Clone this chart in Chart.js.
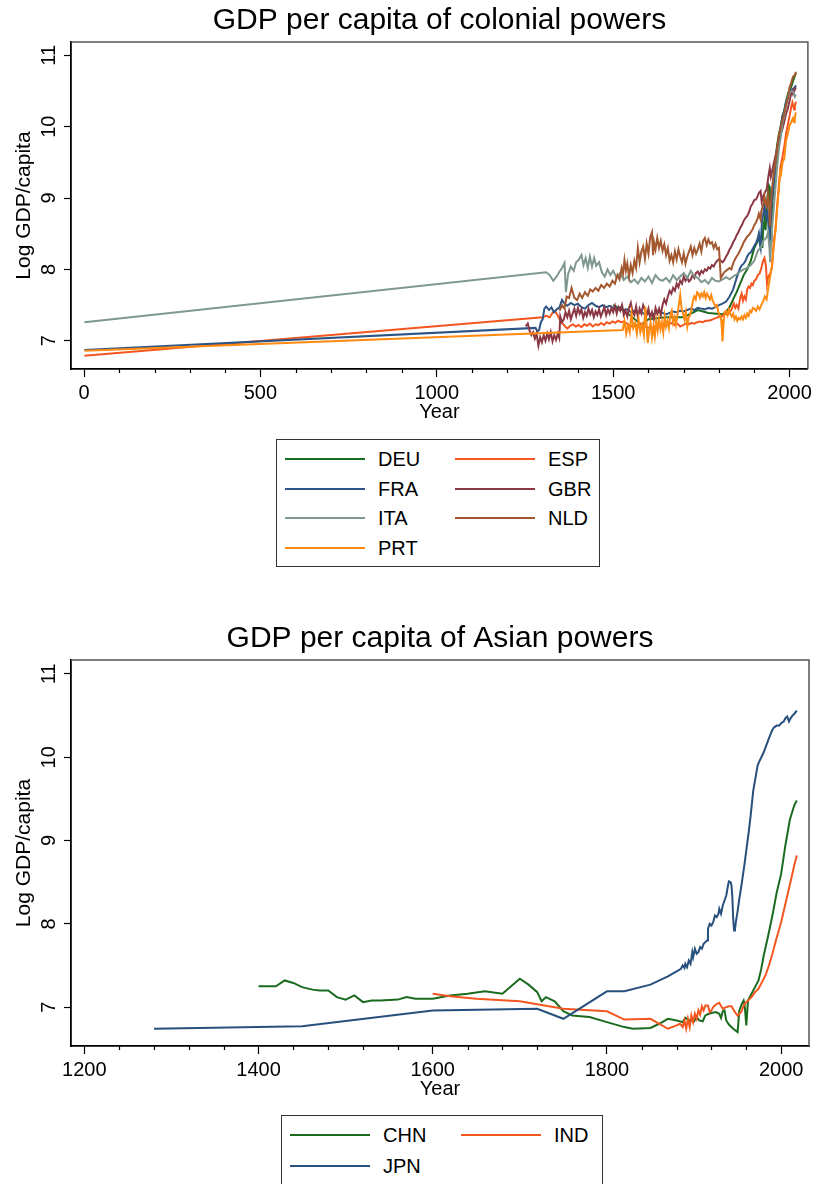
<!DOCTYPE html>
<html>
<head>
<meta charset="utf-8">
<script src="https://cdn.jsdelivr.net/npm/chart.js@4.4.1/dist/chart.umd.min.js"></script>
<style>
  body { margin: 0; background: #fff; width: 816px; height: 1184px; overflow: hidden; position: relative;
         font-family: "Liberation Sans", Arial, Helvetica, sans-serif; }
  canvas { position: absolute; left: 0; }
  .legend { position: absolute; border: 1px solid #333; box-sizing: border-box; background: #fff; }
  .item { position: absolute; height: 24px; display: flex; align-items: center; font-size: 20px; color: #000; white-space: nowrap; }
  .item span.sw { display: inline-block; width: 80px; border-top: 2px solid; margin-right: 13px; }
</style>
</head>
<body>
<canvas id="colonial" width="816" height="430" style="top:0"></canvas>
<div class="legend" id="legendTop" style="left:276px;top:439px;width:324px;height:128px"></div>
<canvas id="asian" width="816" height="488" style="top:618px"></canvas>
<div class="legend" id="legendBottom" style="left:281px;top:1115px;width:322px;height:100px"></div>
<script>
// log GDP per capita, [year, value]
const deu = [[1500,7.50],[1520,7.45],[1550,7.35],[1580,7.22],[1600,7.30],[1650,7.33],[1700,7.33],[1740,7.43],[1770,7.39],[1810,7.37],[1820,7.40],[1830,7.47],[1840,7.58],[1850,7.68],[1860,7.80],[1870,7.92],[1880,8.00],[1890,8.12],[1900,8.30],[1910,8.40],[1913,8.48],[1918,8.35],[1920,8.40],[1923,8.30],[1925,8.55],[1929,8.70],[1932,8.55],[1935,8.85],[1938,9.05],[1941,9.18],[1944,9.15],[1946,8.45],[1948,8.60],[1950,8.85],[1955,9.25],[1960,9.55],[1965,9.75],[1970,9.90],[1975,10.00],[1980,10.15],[1985,10.22],[1990,10.35],[1995,10.45],[2000,10.52],[2005,10.56],[2010,10.64],[2015,10.71],[2018,10.75]];

const esp = [[1,6.79],[1300,7.33],[1310,7.35],[1320,7.33],[1328,7.39],[1336,7.41],[1342,7.36],[1348,7.30],[1355,7.25],[1362,7.21],[1370,7.17],[1378,7.21],[1386,7.23],[1394,7.20],[1402,7.22],[1410,7.19],[1418,7.23],[1426,7.21],[1434,7.24],[1442,7.20],[1450,7.23],[1458,7.22],[1466,7.25],[1474,7.22],[1482,7.26],[1490,7.24],[1498,7.27],[1506,7.25],[1514,7.28],[1522,7.26],[1530,7.27],[1538,7.24],[1546,7.22],[1554,7.20],[1562,7.23],[1570,7.21],[1578,7.24],[1586,7.21],[1594,7.19],[1602,7.18],[1610,7.17],[1618,7.20],[1626,7.18],[1634,7.21],[1642,7.19],[1650,7.22],[1658,7.23],[1666,7.25],[1674,7.22],[1682,7.24],[1690,7.20],[1698,7.22],[1706,7.24],[1714,7.23],[1722,7.25],[1730,7.24],[1738,7.26],[1746,7.27],[1754,7.26],[1762,7.28],[1770,7.28],[1778,7.29],[1786,7.31],[1794,7.32],[1800,7.34],[1806,7.33],[1812,7.36],[1818,7.38],[1824,7.36],[1830,7.40],[1836,7.44],[1842,7.52],[1846,7.46],[1850,7.50],[1855,7.45],[1860,7.60],[1864,7.66],[1868,7.56],[1872,7.62],[1876,7.58],[1880,7.72],[1884,7.76],[1888,7.74],[1892,7.80],[1896,7.78],[1900,7.84],[1905,7.86],[1910,7.92],[1915,7.94],[1920,8.02],[1925,8.12],[1929,8.16],[1933,8.05],[1936,7.80],[1939,7.88],[1942,7.92],[1946,7.95],[1950,8.02],[1955,8.38],[1960,8.55],[1965,8.90],[1970,9.20],[1975,9.45],[1980,9.58],[1985,9.72],[1990,9.90],[1995,10.02],[2000,10.15],[2005,10.28],[2008,10.34],[2010,10.30],[2013,10.24],[2015,10.28],[2018,10.35]];

const fra = [[1,6.87],[1280,7.18],[1285,7.13],[1290,7.15],[1295,7.26],[1300,7.30],[1305,7.45],[1310,7.48],[1318,7.43],[1325,7.47],[1332,7.40],[1340,7.44],[1348,7.47],[1355,7.57],[1362,7.52],[1370,7.49],[1380,7.53],[1390,7.50],[1400,7.52],[1410,7.47],[1420,7.45],[1430,7.50],[1440,7.53],[1450,7.49],[1460,7.47],[1470,7.50],[1480,7.47],[1490,7.49],[1500,7.46],[1510,7.44],[1520,7.47],[1530,7.43],[1540,7.44],[1550,7.40],[1560,7.42],[1570,7.39],[1580,7.40],[1590,7.37],[1600,7.38],[1610,7.36],[1620,7.38],[1630,7.40],[1640,7.39],[1650,7.37],[1660,7.39],[1670,7.41],[1680,7.40],[1690,7.42],[1700,7.41],[1710,7.43],[1720,7.45],[1730,7.43],[1740,7.46],[1750,7.45],[1760,7.44],[1770,7.46],[1780,7.45],[1790,7.47],[1800,7.50],[1810,7.52],[1820,7.55],[1830,7.62],[1840,7.72],[1850,7.88],[1855,7.95],[1860,8.02],[1865,8.06],[1870,8.08],[1875,8.12],[1880,8.18],[1885,8.22],[1890,8.24],[1895,8.28],[1900,8.33],[1905,8.37],[1910,8.44],[1913,8.50],[1916,8.35],[1918,8.30],[1920,8.52],[1922,8.68],[1925,8.76],[1929,8.90],[1932,8.78],[1935,8.72],[1938,8.80],[1940,8.62],[1942,8.48],[1944,8.35],[1946,8.62],[1950,8.92],[1955,9.15],[1960,9.40],[1965,9.65],[1970,9.85],[1975,10.00],[1980,10.15],[1985,10.22],[1990,10.35],[1995,10.40],[2000,10.48],[2005,10.52],[2010,10.53],[2015,10.55],[2018,10.58]];

const gbr = [[1252,7.20],[1258,7.24],[1263,7.14],[1268,7.08],[1273,7.12],[1278,7.03],[1283,7.10],[1288,6.93],[1293,7.05],[1298,6.98],[1303,7.08],[1308,7.00],[1313,7.10],[1318,7.02],[1323,7.12],[1328,6.99],[1333,7.08],[1338,7.01],[1343,7.10],[1347,7.04],[1350,7.34],[1355,7.26],[1360,7.30],[1365,7.40],[1370,7.33],[1375,7.42],[1380,7.30],[1385,7.38],[1390,7.45],[1395,7.35],[1400,7.46],[1405,7.38],[1410,7.44],[1415,7.32],[1420,7.40],[1425,7.35],[1430,7.45],[1435,7.37],[1440,7.43],[1445,7.33],[1450,7.41],[1455,7.36],[1460,7.44],[1465,7.34],[1470,7.40],[1475,7.47],[1480,7.36],[1485,7.44],[1490,7.38],[1495,7.46],[1500,7.40],[1505,7.49],[1510,7.38],[1515,7.47],[1520,7.42],[1525,7.50],[1530,7.36],[1535,7.42],[1540,7.34],[1545,7.46],[1550,7.53],[1555,7.40],[1560,7.36],[1565,7.48],[1570,7.33],[1575,7.45],[1580,7.38],[1585,7.50],[1590,7.44],[1595,7.36],[1600,7.45],[1605,7.32],[1610,7.40],[1615,7.30],[1620,7.46],[1625,7.38],[1630,7.45],[1635,7.36],[1640,7.50],[1645,7.58],[1650,7.52],[1655,7.62],[1660,7.70],[1665,7.66],[1670,7.74],[1675,7.70],[1680,7.80],[1685,7.75],[1690,7.84],[1695,7.80],[1700,7.90],[1705,7.84],[1710,7.88],[1715,7.83],[1720,7.86],[1725,7.92],[1730,7.88],[1735,7.95],[1740,7.97],[1745,7.92],[1750,7.98],[1755,7.95],[1760,8.00],[1765,7.98],[1770,8.03],[1775,8.01],[1780,8.06],[1785,8.04],[1790,8.09],[1795,8.12],[1800,8.14],[1805,8.12],[1810,8.10],[1815,8.13],[1820,8.18],[1825,8.22],[1830,8.28],[1835,8.32],[1840,8.38],[1845,8.42],[1850,8.48],[1855,8.52],[1860,8.58],[1865,8.62],[1870,8.68],[1875,8.72],[1880,8.75],[1885,8.80],[1890,8.88],[1895,8.92],[1900,8.97],[1905,8.98],[1910,9.03],[1913,9.07],[1918,9.10],[1921,8.95],[1925,9.02],[1930,9.08],[1935,9.12],[1940,9.30],[1944,9.42],[1947,9.30],[1950,9.36],[1955,9.48],[1960,9.58],[1965,9.70],[1970,9.80],[1975,9.90],[1980,9.97],[1985,10.07],[1990,10.18],[1995,10.25],[2000,10.36],[2005,10.47],[2008,10.50],[2010,10.46],[2015,10.52],[2018,10.55]];

const ita = [[1,7.26],[1310,7.96],[1320,7.92],[1330,7.84],[1340,7.90],[1348,7.97],[1355,8.02],[1362,8.09],[1366,7.68],[1372,7.93],[1380,8.04],[1388,7.98],[1395,8.10],[1402,8.13],[1410,8.20],[1416,8.06],[1422,8.16],[1428,8.02],[1434,8.18],[1440,8.04],[1446,8.16],[1452,8.05],[1460,8.10],[1468,7.96],[1476,7.90],[1484,8.00],[1492,7.92],[1500,7.98],[1510,7.88],[1520,7.95],[1530,7.85],[1540,7.90],[1550,7.82],[1560,7.86],[1570,7.80],[1580,7.88],[1590,7.83],[1600,7.90],[1610,7.81],[1620,7.92],[1630,7.86],[1640,7.84],[1650,7.88],[1660,7.82],[1670,7.92],[1680,7.85],[1690,7.90],[1700,7.95],[1710,7.88],[1720,7.98],[1730,7.90],[1740,7.88],[1750,7.82],[1760,7.85],[1770,7.80],[1780,7.88],[1790,7.84],[1800,7.83],[1810,7.86],[1820,7.89],[1830,7.86],[1840,7.90],[1850,7.93],[1860,7.97],[1870,8.00],[1880,8.02],[1890,8.06],[1900,8.12],[1910,8.26],[1920,8.32],[1925,8.40],[1930,8.42],[1935,8.45],[1939,8.52],[1943,8.30],[1945,8.10],[1948,8.40],[1950,8.55],[1955,8.85],[1960,9.15],[1965,9.45],[1970,9.70],[1975,9.85],[1980,10.05],[1985,10.15],[1990,10.30],[1995,10.38],[2000,10.47],[2005,10.50],[2010,10.49],[2015,10.42],[2018,10.45]];

const nld = [[1348,7.42],[1355,7.50],[1362,7.45],[1368,7.62],[1375,7.60],[1382,7.74],[1390,7.60],[1398,7.57],[1405,7.66],[1412,7.60],[1420,7.68],[1428,7.63],[1435,7.72],[1442,7.69],[1450,7.74],[1458,7.70],[1466,7.78],[1474,7.74],[1482,7.80],[1490,7.76],[1498,7.84],[1505,7.80],[1512,7.92],[1518,7.86],[1524,8.02],[1528,7.94],[1532,8.13],[1536,7.98],[1540,8.08],[1545,7.90],[1550,8.06],[1555,7.95],[1560,8.12],[1565,8.02],[1570,8.30],[1575,8.10],[1580,8.25],[1585,8.32],[1590,8.15],[1595,8.36],[1600,8.22],[1605,8.45],[1610,8.52],[1613,8.20],[1616,8.38],[1620,8.28],[1625,8.44],[1630,8.30],[1635,8.40],[1640,8.26],[1645,8.35],[1650,8.20],[1655,8.30],[1660,8.12],[1665,8.20],[1670,8.10],[1675,8.25],[1680,8.14],[1685,8.28],[1690,8.18],[1695,8.10],[1700,8.22],[1705,8.08],[1710,8.18],[1715,8.25],[1720,8.32],[1725,8.20],[1730,8.30],[1735,8.22],[1740,8.28],[1745,8.36],[1750,8.25],[1755,8.40],[1760,8.44],[1765,8.34],[1770,8.42],[1775,8.36],[1780,8.38],[1785,8.30],[1790,8.36],[1795,8.28],[1800,8.30],[1805,7.88],[1810,7.92],[1815,7.96],[1820,7.98],[1825,8.00],[1830,8.02],[1835,8.00],[1840,8.08],[1845,8.14],[1850,8.18],[1855,8.22],[1860,8.27],[1865,8.32],[1870,8.38],[1875,8.42],[1880,8.46],[1885,8.48],[1890,8.52],[1895,8.56],[1900,8.62],[1905,8.66],[1910,8.72],[1913,8.78],[1918,8.70],[1920,8.82],[1925,8.90],[1929,9.02],[1932,8.92],[1935,8.88],[1939,9.05],[1942,8.90],[1944,8.60],[1946,8.85],[1950,9.12],[1955,9.35],[1960,9.50],[1965,9.70],[1970,9.88],[1975,10.00],[1980,10.10],[1985,10.18],[1990,10.30],[1995,10.40],[2000,10.55],[2005,10.62],[2010,10.70],[2015,10.72],[2018,10.77]];

const prt = [[1,6.86],[1527,7.15],[1532,7.28],[1537,7.10],[1542,7.22],[1547,7.12],[1552,7.38],[1557,7.18],[1562,7.25],[1567,7.10],[1572,7.30],[1577,7.12],[1582,7.22],[1587,7.08],[1591,7.48],[1595,7.20],[1598,6.97],[1602,7.15],[1606,7.25],[1610,7.05],[1614,7.20],[1618,7.06],[1622,7.28],[1626,7.14],[1630,7.30],[1634,7.16],[1638,7.26],[1642,7.12],[1646,7.34],[1650,7.20],[1654,7.28],[1658,7.18],[1662,7.36],[1666,7.42],[1670,7.25],[1674,7.33],[1678,7.22],[1682,7.36],[1686,7.50],[1690,7.64],[1694,7.45],[1698,7.38],[1702,7.30],[1706,7.40],[1710,7.20],[1714,7.32],[1718,7.36],[1722,7.44],[1726,7.56],[1730,7.62],[1734,7.58],[1738,7.68],[1742,7.66],[1746,7.60],[1750,7.66],[1754,7.62],[1758,7.68],[1762,7.60],[1766,7.66],[1770,7.62],[1774,7.58],[1778,7.64],[1782,7.56],[1786,7.52],[1790,7.48],[1794,7.50],[1798,7.40],[1802,7.36],[1806,7.30],[1808,7.18],[1810,6.99],[1813,7.25],[1816,7.40],[1820,7.42],[1824,7.36],[1828,7.44],[1832,7.38],[1836,7.34],[1840,7.38],[1844,7.30],[1848,7.34],[1852,7.28],[1856,7.32],[1860,7.30],[1864,7.34],[1868,7.30],[1872,7.36],[1876,7.32],[1880,7.38],[1884,7.35],[1888,7.42],[1892,7.40],[1896,7.46],[1900,7.45],[1905,7.42],[1910,7.48],[1915,7.44],[1920,7.50],[1925,7.55],[1930,7.62],[1935,7.58],[1940,7.75],[1945,7.90],[1950,8.05],[1955,8.30],[1960,8.55],[1965,8.85],[1970,9.15],[1973,9.35],[1975,9.30],[1980,9.50],[1985,9.55],[1990,9.80],[1995,9.90],[2000,10.02],[2005,10.06],[2008,10.10],[2010,10.12],[2013,10.06],[2015,10.12],[2018,10.20]];

const chn = [[1400,7.25],[1420,7.25],[1430,7.32],[1440,7.29],[1450,7.24],[1462,7.21],[1470,7.20],[1480,7.20],[1490,7.12],[1500,7.09],[1510,7.14],[1520,7.06],[1530,7.08],[1540,7.08],[1560,7.09],[1570,7.12],[1580,7.10],[1600,7.10],[1620,7.14],[1640,7.16],[1660,7.19],[1680,7.16],[1690,7.25],[1700,7.34],[1710,7.27],[1720,7.18],[1725,7.07],[1730,7.12],[1740,7.07],[1750,6.95],[1760,6.90],[1780,6.88],[1800,6.82],[1820,6.76],[1830,6.74],[1850,6.75],[1860,6.80],[1870,6.86],[1880,6.84],[1887,6.82],[1890,6.87],[1895,6.84],[1900,6.83],[1903,6.88],[1906,6.84],[1910,6.83],[1913,6.90],[1917,6.92],[1920,6.93],[1925,6.94],[1929,6.92],[1931,6.87],[1933,6.95],[1935,6.96],[1937,6.84],[1940,6.79],[1945,6.74],[1950,6.70],[1952,6.96],[1955,7.04],[1957,7.08],[1958,7.04],[1960,6.78],[1962,7.08],[1966,7.16],[1970,7.24],[1974,7.32],[1977,7.45],[1980,7.62],[1985,7.85],[1990,8.10],[1995,8.38],[2000,8.60],[2005,8.95],[2010,9.25],[2015,9.42],[2018,9.48]];

const ind = [[1600,7.16],[1620,7.13],[1650,7.10],[1700,7.07],[1750,6.98],[1800,6.95],[1820,6.85],[1850,6.86],[1870,6.74],[1880,6.78],[1884,6.80],[1887,6.76],[1889,6.84],[1891,6.74],[1893,6.86],[1895,6.76],[1897,6.90],[1899,6.82],[1901,6.92],[1903,6.86],[1905,6.96],[1907,6.91],[1909,7.01],[1911,6.96],[1913,7.02],[1916,7.02],[1918,6.94],[1920,6.96],[1922,7.00],[1926,7.04],[1929,7.05],[1933,6.98],[1937,7.00],[1940,7.01],[1943,7.01],[1947,6.94],[1950,6.90],[1954,6.94],[1958,7.04],[1962,7.08],[1966,7.12],[1970,7.18],[1974,7.22],[1978,7.30],[1982,7.38],[1986,7.50],[1990,7.64],[1994,7.80],[2000,8.02],[2004,8.20],[2008,8.38],[2012,8.56],[2015,8.70],[2018,8.82]];

const jpn = [[1280,6.74],[1450,6.77],[1600,6.96],[1720,6.98],[1750,6.86],[1800,7.19],[1820,7.19],[1850,7.27],[1870,7.37],[1880,7.43],[1885,7.46],[1887,7.50],[1889,7.47],[1890,7.52],[1892,7.48],[1894,7.56],[1896,7.52],[1898,7.66],[1899,7.60],[1901,7.70],[1903,7.64],[1905,7.66],[1907,7.72],[1909,7.70],[1911,7.76],[1913,7.78],[1915,7.80],[1916,7.94],[1918,8.00],[1920,7.98],[1922,8.02],[1924,8.10],[1926,8.08],[1928,8.12],[1929,8.18],[1931,8.12],[1933,8.22],[1935,8.28],[1937,8.34],[1939,8.46],[1940,8.51],[1942,8.50],[1943,8.46],[1944,8.32],[1945,8.05],[1946,7.92],[1947,7.93],[1948,8.02],[1950,8.15],[1952,8.30],[1955,8.50],[1958,8.72],[1960,8.88],[1963,9.12],[1965,9.30],[1968,9.60],[1970,9.72],[1973,9.90],[1975,9.95],[1980,10.06],[1985,10.20],[1988,10.28],[1990,10.33],[1992,10.36],[1995,10.38],[1998,10.38],[2000,10.41],[2003,10.43],[2005,10.47],[2007,10.49],[2009,10.43],[2011,10.47],[2013,10.50],[2015,10.52],[2018,10.56]];

const colonialNames = ['DEU', 'ESP', 'FRA', 'GBR', 'ITA', 'NLD', 'PRT'];
const colonialSeries = [deu, esp, fra, gbr, ita, nld, prt];
const colonialColors = ['#1b6b1f', '#f4561f', '#2c5585', '#8b3845', '#7f988d', '#a3582f', '#ff8a12'];
const colonialYearTicks = [0, 500, 1000, 1500, 2000];

const asianNames = ['CHN', 'IND', 'JPN'];
const asianSeries = [chn, ind, jpn];
const asianColors = ['#1b6b1f', '#f4561f', '#27507d'];
const asianYearTicks = [1200, 1400, 1600, 1800, 2000];

const logTicks = [7, 8, 9, 10, 11];

const FONT = '"Liberation Sans", Arial, Helvetica, sans-serif';

// top and right edges of the plot box, plus the short minor ticks on x
const framePlugin = {
    id: 'frame',
    beforeDatasetsDraw(chart, args, opts) {
        const a = chart.chartArea;
        const ctx = chart.ctx;
        const xs = chart.scales.x;
        ctx.save();
        ctx.strokeStyle = '#555';
        ctx.lineWidth = 1.5;
        ctx.beginPath();
        ctx.moveTo(a.left, a.top);
        ctx.lineTo(a.right, a.top);
        ctx.lineTo(a.right, a.bottom);
        ctx.stroke();
        ctx.strokeStyle = '#000';
        ctx.lineWidth = 1.2;
        ctx.beginPath();
        for (let v = Math.ceil(xs.min / opts.minor) * opts.minor; v <= xs.max; v += opts.minor) {
            if (opts.majors.includes(v)) continue;
            const px = Math.round(xs.getPixelForValue(v)) + 0.5;
            ctx.moveTo(px, a.bottom);
            ctx.lineTo(px, a.bottom + 4);
        }
        ctx.stroke();
        ctx.restore();
    }
};

function makeChart(id, title, names, series, colors, xr, yr, xTicks, xMinor, yearPad) {
    const datasets = series.map((s, i) => ({
        label: names[i],
        data: s.map(p => ({ x: p[0], y: p[1] })),
        borderColor: colors[i],
        borderWidth: 2,
        pointRadius: 0,
        fill: false,
        tension: 0,
        order: series.length - i
    }));
    return new Chart(document.getElementById(id), {
        type: 'line',
        data: { datasets: datasets },
        plugins: [framePlugin],
        options: {
            responsive: false,
            animation: false,
            layout: { padding: { left: 0, right: 7, top: 0, bottom: 0 } },
            plugins: {
                legend: { display: false },
                tooltip: { enabled: false },
                frame: { majors: xTicks, minor: xMinor },
                title: {
                    display: true, text: title, color: '#000', fullSize: false,
                    font: { family: FONT, size: 30, weight: 'normal' },
                    padding: { top: 3, bottom: 3 }
                }
            },
            scales: {
                x: {
                    type: 'linear', min: xr[0], max: xr[1],
                    afterBuildTicks: s => { s.ticks = xTicks.map(v => ({ value: v })); },
                    afterFit: s => { s.height = s.chart.height - yearPad.bottomAt; },
                    ticks: {
                        autoSkip: false, maxRotation: 0, minRotation: 0, padding: 4, color: '#000',
                        font: { family: FONT, size: 20 },
                        callback: v => String(v)
                    },
                    grid: { drawOnChartArea: false, tickLength: 8, color: '#000', tickWidth: 1.2 },
                    border: { display: true, color: '#000', width: 1.8 },
                    title: {
                        display: true, text: 'Year', color: '#000',
                        font: { family: FONT, size: 20 }, padding: { top: 0, bottom: yearPad.pad }
                    }
                },
                y: {
                    min: yr[0], max: yr[1],
                    afterBuildTicks: s => { s.ticks = logTicks.map(v => ({ value: v })); },
                    afterFit: s => { s.width = 71; },
                    ticks: {
                        minRotation: 90, maxRotation: 90,
                        crossAlign: 'center', padding: 3, color: '#000',
                        font: { family: FONT, size: 20 },
                        callback: v => String(v)
                    },
                    grid: { drawOnChartArea: false, tickLength: 7, color: '#000', tickWidth: 1.2 },
                    border: { display: true, color: '#000', width: 1.8 },
                    title: {
                        display: true, text: 'Log GDP/capita', color: '#000',
                        font: { family: FONT, size: 21 }, padding: { top: 12, bottom: 0 }
                    }
                }
            }
        }
    });
}

function makeLegend(id, names, colors, colX, rowY) {
    const box = document.getElementById(id);
    names.forEach((n, i) => {
        const row = Math.floor(i / 2), col = i % 2;
        const d = document.createElement('div');
        d.className = 'item';
        d.style.left = colX[col] + 'px';
        d.style.top = (rowY[row] - 12) + 'px';
        d.innerHTML = '<span class="sw" style="border-color:' + colors[i] + '"></span>' + n;
        box.appendChild(d);
    });
}

makeChart('colonial', 'GDP per capita of colonial powers', colonialNames, colonialSeries, colonialColors,
    [-37, 2052], [6.604, 11.186], colonialYearTicks, 100, { bottomAt: 369, pad: 6 });
makeChart('asian', 'GDP per capita of Asian powers', asianNames, asianSeries, asianColors,
    [1184.7, 2032], [6.533, 11.168], asianYearTicks, 40, { bottomAt: 428, pad: 5 });

makeLegend('legendTop', colonialNames, colonialColors, [8, 178], [19, 49, 78, 108]);
makeLegend('legendBottom', asianNames, asianColors, [8, 179], [19, 50]);
</script>
</body>
</html>
